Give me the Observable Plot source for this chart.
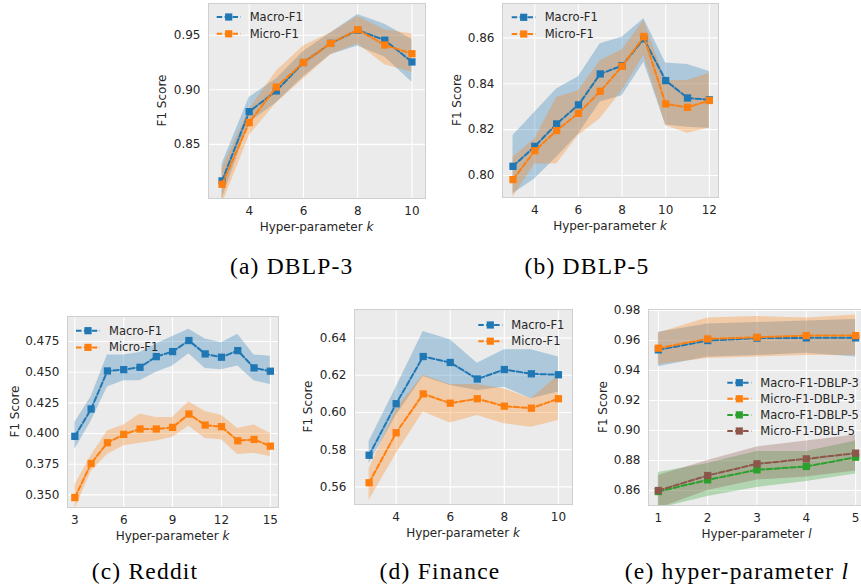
<!DOCTYPE html>
<html><head><meta charset="utf-8">
<script src="https://cdn.jsdelivr.net/npm/d3@7"></script>
<script src="https://cdn.jsdelivr.net/npm/@observablehq/plot@0.6"></script>
<style>
html,body{margin:0;padding:0;background:#fff;width:861px;height:587px;overflow:hidden;position:relative}
svg.pn{position:absolute;overflow:visible}
.cap{position:absolute;font-family:"Liberation Serif",serif;font-size:23.5px;letter-spacing:1.2px;transform:translate(-50%,-50%);white-space:nowrap;color:#000}
</style></head><body>
<script>
// ---------- data ----------
// (a) DBLP-3
const kA = [3,4,5,6,7,8,9,10];
const macroA   = [0.8166,0.880,0.899,0.925,0.9425,0.9546,0.9454,0.9255];
const macroALo = [0.800,0.870,0.888,0.912,0.932,0.940,0.930,0.907];
const macroAHi = [0.832,0.893,0.910,0.935,0.952,0.969,0.960,0.946];
const microA   = [0.8135,0.870,0.9025,0.925,0.9425,0.955,0.941,0.933];
const microALo = [0.795,0.858,0.888,0.910,0.932,0.942,0.923,0.916];
const microAHi = [0.828,0.882,0.917,0.940,0.952,0.967,0.955,0.951];
const xTicksA = [4,6,8,10];
const yTicksA = [0.85,0.90,0.95];
// (b) DBLP-5
const kB = [3,4,5,6,7,8,9,10,11,12];
const macroB   = [0.804,0.8127,0.8225,0.8308,0.8443,0.8479,0.8596,0.8414,0.8338,0.833];
const macroBLo = [0.792,0.7985,0.808,0.818,0.832,0.8348,0.8494,0.822,0.821,0.8206];
const macroBHi = [0.8174,0.8276,0.8377,0.8431,0.8574,0.8603,0.8683,0.849,0.8484,0.8453];
const microB   = [0.7982,0.8108,0.8196,0.8271,0.8367,0.8476,0.8606,0.8312,0.8297,0.8327];
const microBLo = [0.7905,0.805,0.805,0.8174,0.8247,0.837,0.8523,0.8217,0.8184,0.8206];
const microBHi = [0.808,0.816,0.834,0.837,0.850,0.8548,0.8676,0.8414,0.8414,0.8446];
const xTicksB = [4,6,8,10,12];
const yTicksB = [0.80,0.82,0.84,0.86];
// (c) Reddit
const kC = [3,4,5,6,7,8,9,10,11,12,13,14,15];
const macroC   = [0.3977,0.420,0.451,0.4521,0.454,0.4627,0.4668,0.4758,0.4649,0.4622,0.4676,0.4535,0.4508];
const macroCLo = [0.387,0.410,0.438,0.443,0.443,0.450,0.455,0.465,0.453,0.452,0.455,0.443,0.440];
const macroCHi = [0.409,0.430,0.464,0.464,0.466,0.473,0.479,0.485,0.477,0.474,0.481,0.464,0.463];
const microC   = [0.3478,0.3756,0.3925,0.3993,0.4037,0.4037,0.405,0.4159,0.4069,0.4056,0.3941,0.3952,0.3897];
const microCLo = [0.338,0.369,0.383,0.390,0.392,0.394,0.397,0.406,0.396,0.395,0.383,0.384,0.381];
const microCHi = [0.358,0.382,0.402,0.407,0.416,0.413,0.413,0.426,0.418,0.415,0.404,0.407,0.400];
const xTicksC = [3,6,9,12,15];
const yTicksC = [0.350,0.375,0.400,0.425,0.450,0.475];
// (d) Finance
const kD = [3,4,5,6,7,8,9,10];
const macroD   = [0.577,0.6047,0.6301,0.6269,0.618,0.6231,0.6208,0.6203];
const macroDLo = [0.5724,0.5984,0.6194,0.6145,0.6118,0.6136,0.6074,0.611];
const macroDHi = [0.5844,0.6136,0.6436,0.6391,0.6265,0.6337,0.6337,0.6298];
const microD   = [0.5622,0.5891,0.610,0.605,0.6074,0.6034,0.6023,0.6074];
const microDLo = [0.5527,0.5778,0.6002,0.5943,0.5984,0.5939,0.5921,0.5957];
const microDHi = [0.5697,0.602,0.620,0.615,0.615,0.6127,0.6074,0.620];
const xTicksD = [4,6,8,10];
const yTicksD = [0.56,0.58,0.60,0.62,0.64];
// (e) hyper-parameter l
const lE = [1,2,3,4,5];
const macro3E   = [0.9538,0.960,0.9616,0.9618,0.9618];
const macro3ELo = [0.9425,0.949,0.950,0.9515,0.949];
const macro3EHi = [0.9655,0.971,0.972,0.973,0.974];
const micro3E   = [0.9549,0.9611,0.9622,0.9633,0.9633];
const micro3ELo = [0.944,0.948,0.949,0.950,0.950];
const micro3EHi = [0.965,0.975,0.976,0.975,0.977];
const macro5E   = [0.8593,0.8671,0.8738,0.876,0.8822];
const macro5ELo = [0.848,0.856,0.862,0.866,0.871];
const macro5EHi = [0.872,0.878,0.886,0.886,0.893];
const micro5E   = [0.860,0.870,0.8778,0.8811,0.8849];
const micro5ELo = [0.848,0.860,0.867,0.869,0.873];
const micro5EHi = [0.870,0.880,0.889,0.893,0.897];
const xTicksE = [1,2,3,4,5];
const yTicksE = [0.86,0.88,0.90,0.92,0.94,0.96,0.98];

const names2 = ["Macro-F1","Micro-F1"];
const namesE = ["Macro-F1-DBLP-3","Micro-F1-DBLP-3","Macro-F1-DBLP-5","Micro-F1-DBLP-5"];
const captions = ["(a) DBLP-3","(b) DBLP-5","(c) Reddit","(d) Finance","(e) hyper-parameter "];

// ---------- drawing ----------
const C = {blue:"#1f77b4", orange:"#ff7f0e", green:"#2ca02c", brown:"#8c564b"};
const BG = "#ebebeb";
const DASH = "5.5,2.4";
function rows(xs, ys, lo, hi){ return xs.map((x,i)=>({x, y:ys[i], lo:lo[i], hi:hi[i]})); }

function panel(cfg){
  const {left, top, width, height, ml, mr, mt, mb, xDomain, yDomain, xTicks, yTicks, yFmt, series, xVar, yLabOff, legend} = cfg;
  const marks = [
    Plot.frame({fill: BG, stroke: null}),
    Plot.gridX(xTicks, {stroke:"#fff", strokeOpacity:1, strokeWidth:1.1}),
    Plot.gridY(yTicks, {stroke:"#fff", strokeOpacity:1, strokeWidth:1.1})
  ];
  for (const s of series) marks.push(Plot.areaY(s.data, {x:"x", y1:"lo", y2:"hi", fill:s.color, fillOpacity:0.3, clip:true}));
  for (const s of series) {
    marks.push(Plot.line(s.data, {x:"x", y:"y", stroke:s.color, strokeWidth:2, strokeDasharray:DASH, clip:true}));
    marks.push(Plot.dot(s.data, {x:"x", y:"y", symbol:"square", r:4.1, fill:s.color, stroke:"none"}));
  }
  marks.push(Plot.frame({stroke:"#cfcfcf", strokeWidth:1}));
  marks.push(Plot.axisX(xTicks, {tickSize:0, tickPadding:8, label:null}));
  marks.push(Plot.axisY(yTicks, {tickSize:0, tickPadding:8, tickFormat:d3.format(yFmt), label:null}));
  const chart = Plot.plot({
    width, height, marginLeft:ml, marginRight:mr, marginTop:mt, marginBottom:mb,
    x:{domain:xDomain}, y:{domain:yDomain},
    style:{fontFamily:"DejaVu Sans", fontSize:"12px", color:"#262626", background:"transparent", overflow:"visible"},
    marks
  });
  chart.classList.add("pn");
  chart.style.left = left + "px";
  chart.style.top = top + "px";
  const svg = d3.select(chart);
  const cx = ml + (width - ml - mr) / 2;
  const cy = mt + (height - mt - mb) / 2;
  const xl = svg.append("text").attr("x", cx).attr("y", height - mb + 28.7).attr("dy","0.35em")
    .attr("text-anchor","middle").attr("fill","#262626").style("font-family","DejaVu Sans").style("font-size","12px");
  xl.append("tspan").text("Hyper-parameter ");
  xl.append("tspan").attr("font-style","italic").text(xVar);
  svg.append("text").attr("x", ml - yLabOff).attr("y", cy).attr("dy","0.35em")
    .attr("transform", `rotate(-90,${ml - yLabOff},${cy})`)
    .attr("text-anchor","middle").attr("fill","#262626").style("font-family","DejaVu Sans").style("font-size","12px")
    .text("F1 Score");
  // legend
  const lg = svg.append("g");
  series.forEach((s,i)=>{
    const y = legend.y + i*legend.dy;
    lg.append("line").attr("x1", legend.x).attr("x2", legend.x + 24).attr("y1", y).attr("y2", y)
      .attr("stroke", s.color).attr("stroke-width", 2).attr("stroke-dasharray", DASH);
    lg.append("rect").attr("x", legend.x + 12 - 3.6).attr("y", y - 3.6).attr("width", 7.2).attr("height", 7.2).attr("fill", s.color);
    lg.append("text").attr("x", legend.x + 33).attr("y", y).attr("dy","0.35em").attr("fill","#262626")
      .attr("text-anchor","start")
      .style("font-family","DejaVu Sans").style("font-size","11.5px").text(s.name);
  });
  document.body.appendChild(chart);
}

panel({left:150, top:0, width:290, height:240, ml:58, mr:15, mt:3, mb:42,
  xDomain:[2.5,10.5], yDomain:[0.8005,0.979], xTicks:xTicksA, yTicks:yTicksA, yFmt:".2f",
  series:[{name:names2[0], color:C.blue, data:rows(kA,macroA,macroALo,macroAHi)},
          {name:names2[1], color:C.orange, data:rows(kA,microA,microALo,microAHi)}],
  xVar:"k", yLabOff:46, legend:{x:66.7, y:17, dy:16.8}});

panel({left:440, top:0, width:290, height:240, ml:62, mr:12, mt:3, mb:43,
  xDomain:[2.52,12.42], yDomain:[0.7904,0.875], xTicks:xTicksB, yTicks:yTicksB, yFmt:".2f",
  series:[{name:names2[0], color:C.blue, data:rows(kB,macroB,macroBLo,macroBHi)},
          {name:names2[1], color:C.orange, data:rows(kB,microB,microBLo,microBHi)}],
  xVar:"k", yLabOff:45.5, legend:{x:71.7, y:17.3, dy:16.7}});

panel({left:0, top:290, width:290, height:260, ml:67, mr:12, mt:26, mb:43,
  xDomain:[2.55,15.5], yDomain:[0.3397,0.4954], xTicks:xTicksC, yTicks:yTicksC, yFmt:".3f",
  series:[{name:names2[0], color:C.blue, data:rows(kC,macroC,macroCLo,macroCHi)},
          {name:names2[1], color:C.orange, data:rows(kC,microC,microCLo,microCHi)}],
  xVar:"k", yLabOff:52, legend:{x:76, y:40.7, dy:16.7}});

panel({left:280, top:290, width:300, height:260, ml:74, mr:8, mt:19, mb:46,
  xDomain:[2.46,10.52], yDomain:[0.5505,0.6554], xTicks:xTicksD, yTicks:yTicksD, yFmt:".2f",
  series:[{name:names2[0], color:C.blue, data:rows(kD,macroD,macroDLo,macroDHi)},
          {name:names2[1], color:C.orange, data:rows(kD,microD,microDLo,microDHi)}],
  xVar:"k", yLabOff:45.7, legend:{x:198.3, y:35, dy:16.2}});

panel({left:570, top:290, width:310, height:260, ml:78, mr:15, mt:19, mb:45,
  xDomain:[0.8,5.2], yDomain:[0.85,0.9807], xTicks:xTicksE, yTicks:yTicksE, yFmt:".2f",
  series:[{name:namesE[0], color:C.blue, data:rows(lE,macro3E,macro3ELo,macro3EHi)},
          {name:namesE[1], color:C.orange, data:rows(lE,micro3E,micro3ELo,micro3EHi)},
          {name:namesE[2], color:C.green, data:rows(lE,macro5E,macro5ELo,macro5EHi)},
          {name:namesE[3], color:C.brown, data:rows(lE,micro5E,micro5ELo,micro5EHi)}],
  xVar:"l", yLabOff:45, legend:{x:157.3, y:92.7, dy:16.1}});

// captions
const capPos = [[291.7,266],[587,266],[145,571],[440,571],[737,571]];
captions.forEach((t,i)=>{
  const d = document.createElement("div");
  d.className = "cap";
  d.style.left = capPos[i][0] + "px";
  d.style.top = capPos[i][1] + "px";
  d.textContent = t;
  if (i === 4) { const it = document.createElement("i"); it.textContent = "l"; d.appendChild(it); }
  document.body.appendChild(d);
});
</script>
</body></html>
